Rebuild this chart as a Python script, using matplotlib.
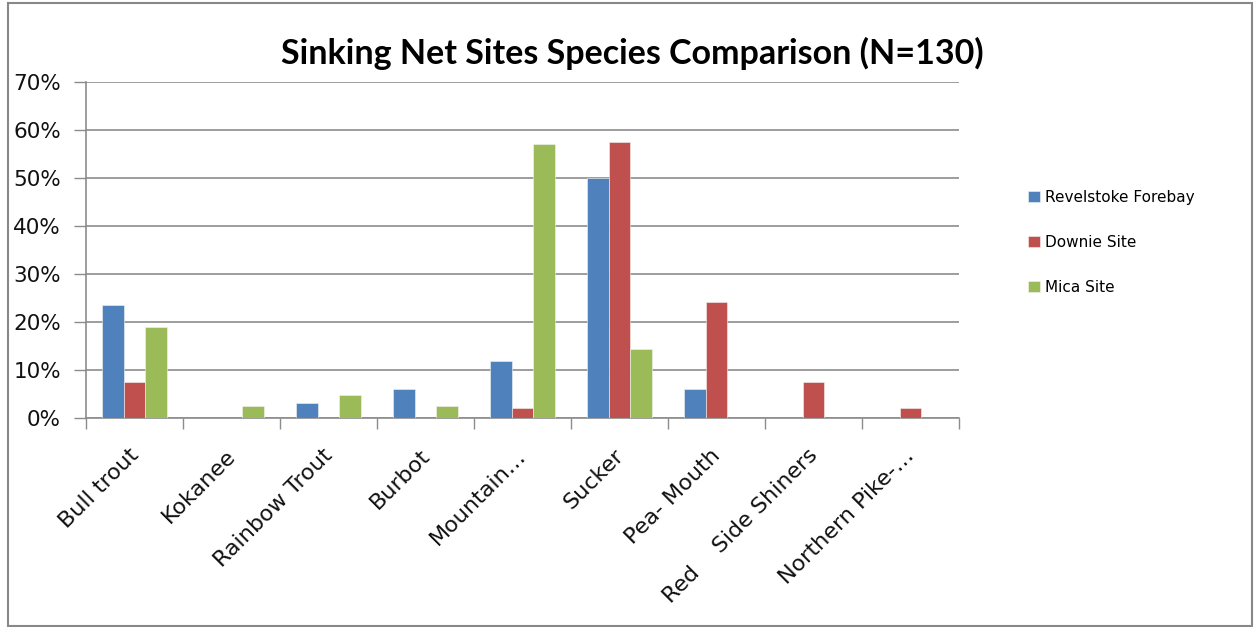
import matplotlib
matplotlib.use('Agg')
import matplotlib.pyplot as plt
import numpy as np
from matplotlib.patches import Rectangle
from matplotlib.ticker import PercentFormatter

# Chart data (percent of catch per site)
species = ['Bull trout', 'Kokanee', 'Rainbow Trout', 'Burbot', 'Mountain\u2026',
           'Sucker', 'Pea- Mouth', 'Red    Side Shiners', 'Northern Pike-\u2026']
revelstoke = [23.5, 0, 3.0, 6.0, 11.8, 50.0, 6.0, 0, 0]
downie = [7.5, 0, 0, 0, 1.9, 57.5, 24.1, 7.5, 1.9]
mica = [19.0, 2.4, 4.8, 2.4, 57.2, 14.3, 0, 0, 0]
series_names = ['Revelstoke Forebay', 'Downie Site', 'Mica Site']
colors = ['#4F81BD', '#C0504D', '#9BBB59']
title = 'Sinking Net Sites Species Comparison (N=130)'


def main():
    W, H = 1255, 627
    fig = plt.figure(figsize=(W / 100, H / 100), dpi=100)
    ax = fig.add_axes([86 / W, 1 - 417.5 / H, (959 - 86) / W, (417.5 - 82.3) / H])

    x = np.arange(len(species))
    width = 0.22
    for i, (vals, name, c) in enumerate(zip([revelstoke, downie, mica], series_names, colors)):
        ax.bar(x + (i - 1) * width, vals, width, color=c, label=name,
               edgecolor='#f4f4f4', linewidth=0.4, zorder=3)

    grid_c = '#8c8c8c'
    ax.set_xlim(-0.5, len(species) - 0.5)
    ax.set_ylim(0, 70)
    ax.set_yticks(np.arange(0, 71, 10))
    ax.yaxis.set_major_formatter(PercentFormatter(decimals=0))
    ax.yaxis.grid(True, color=grid_c, linewidth=1.2, zorder=0)

    # boundaries as major ticks, category labels on minor ticks
    # (labels nudged a little left so their ends sit under the centre)
    ax.set_xticks(np.arange(-0.5, len(species), 1.0))
    ax.set_xticklabels([])
    ax.set_xticks(x - 0.065, minor=True)
    ax.set_xticklabels(species, minor=True, rotation=45, ha='right', va='top',
                       rotation_mode='anchor', fontsize=16, color='#111111')
    ax.tick_params(axis='x', which='major', length=8, color=grid_c, width=1)
    ax.tick_params(axis='x', which='minor', length=0, pad=20)
    ax.tick_params(axis='y', length=9, color=grid_c, width=1, labelsize=15.5,
                   labelcolor='#111111', pad=9)

    for s in ['top', 'right']:
        ax.spines[s].set_visible(False)
    for s in ['left', 'bottom']:
        ax.spines[s].set_color(grid_c)
        ax.spines[s].set_linewidth(1.2)

    fig.text(0.504, 1 - 53 / H, title, ha='center', va='center',
             fontsize=24.5, fontweight='bold', family=['Lato', 'DejaVu Sans'])

    fig.legend(loc='upper left', bbox_to_anchor=(1022 / W, 1 - 184 / H),
               frameon=False, fontsize=11, handlelength=0.75, handleheight=0.75,
               handletextpad=0.35, labelspacing=1.95, borderaxespad=0)

    # outer chart border
    fig.patches.append(Rectangle((8 / W, 1 / H), (W - 11) / W, (H - 4) / H,
                                 transform=fig.transFigure, fill=False,
                                 edgecolor='#888888', linewidth=1.5))

    fig.savefig('out.png', dpi=100)


if __name__ == '__main__':
    main()
